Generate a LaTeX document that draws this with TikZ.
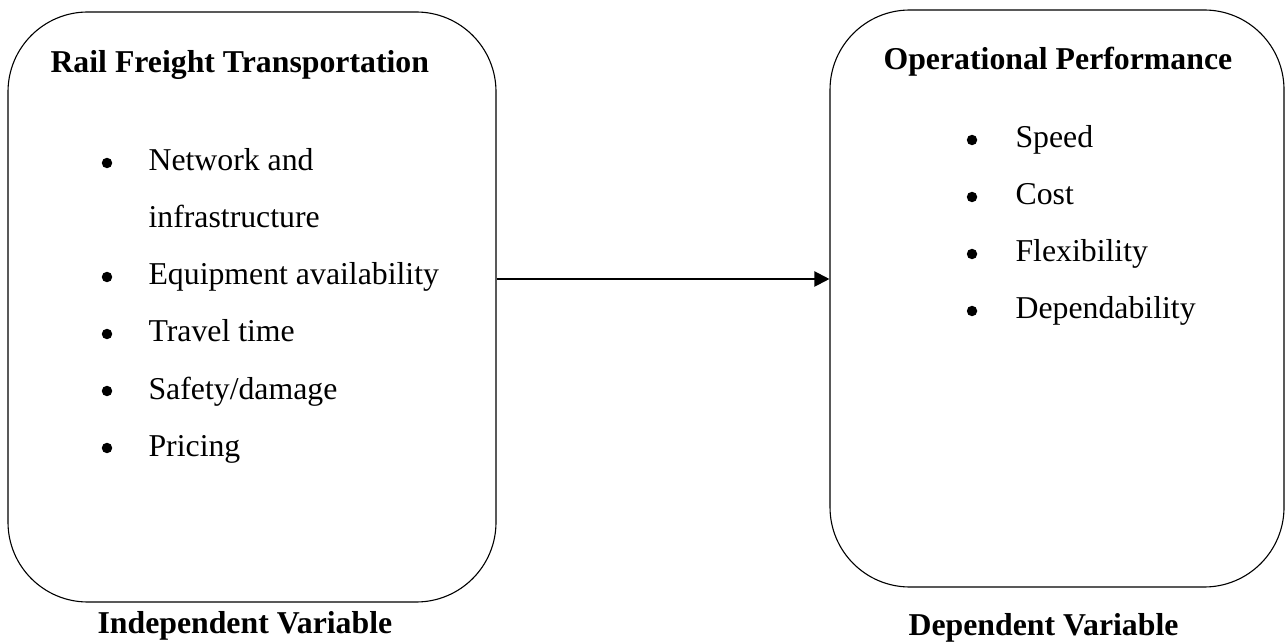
\documentclass[tikz,border=0pt]{standalone}
\usepackage{fontspec}
\setmainfont{Liberation Serif}
\usetikzlibrary{arrows.meta}

\begin{document}
\begin{tikzpicture}
  [
    x=0.3634pt, y=-0.3634pt,
    >={Triangle[length=5.5pt,width=5.5pt]},
    box/.style  = {draw, rounded corners=29pt, line width=0.4pt, inner sep=0pt},
    head/.style = {font=\fontsize{11.55}{14}\selectfont\bfseries, anchor=base west, inner sep=0pt},
    item/.style = {font=\fontsize{11.55}{14}\selectfont, anchor=base west, inner sep=0pt},
    dot/.style  = {circle, fill=black, inner sep=0pt, minimum size=3.8pt},
  ]

\useasboundingbox (0,0) rectangle (1288,642);

%Spacing of list lines, bullet offset and bullet height
\def \gap{57}
\def \ind{41}
\def \up{8}

%The two boxes
\node[box, minimum width={488*0.3634pt}, minimum height={590*0.3634pt}] (rft) at (252,307) {};
\node[box, minimum width={454*0.3634pt}, minimum height={577*0.3634pt}] (op) at (1057,298.5) {};

%Headings
\node[head] (rfthead) at (50,73) {Rail Freight Transportation};
\node[head] (ophead) at (883,70) {Operational Performance};

%Left list
\node[dot]  (ldot0) at (148-\ind,171-\up) {};
\node[item] (litem0) at (148,171) {Network and};
\node[item] (litem0b) at (148,171+\gap) {infrastructure};
\foreach [count=\i] \j in {Equipment availability,Travel time,Safety/damage,Pricing}
{
\node[dot]  (ldot\i) at (148-\ind,{171+(\i+1)*\gap-\up}) {};
\node[item] (litem\i) at (148,{171+(\i+1)*\gap}) {\j};
}

%Right list
\foreach [count=\i] \j in {Speed,Cost,Flexibility,Dependability}
{
\node[dot]  (rdot\i) at (1015-\ind-2,{148+(\i-1)*\gap-\up}) {};
\node[item] (ritem\i) at (1015,{148+(\i-1)*\gap}) {\j};
}

%Captions under the boxes
\node[head] (indep) at (97,633) {Independent Variable};
\node[head] (dep) at (908,635) {Dependent Variable};

%Arrow
\coordinate (arry) at (0,279);
\draw[->, line width=0.75pt] (rft.east |- arry) -- (op.west |- arry);
\end{tikzpicture}
\end{document}
